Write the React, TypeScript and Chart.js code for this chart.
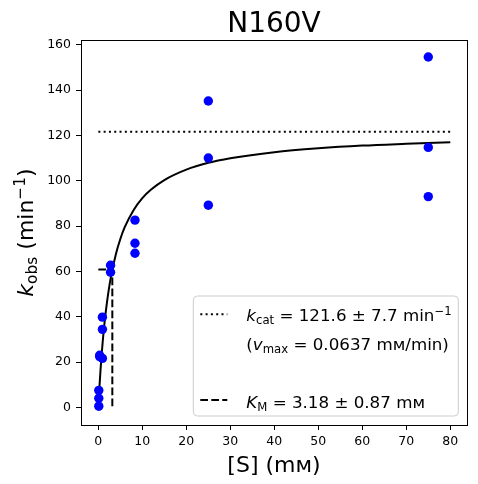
import React, { useEffect, useRef } from 'react';
import { Chart, registerables, Plugin } from 'chart.js';

Chart.register(...registerables);

// measured substrate concentrations (mM) and observed rates (1/min)
const substrateConc = [0.103, 0.103, 0.103, 0.309, 0.309, 0.926, 0.926, 0.926, 2.78, 2.78, 8.33, 8.33, 8.33, 25, 25, 25, 75, 75, 75];
const kObs = [7.5, 4.0, 0.5, 23.0, 22.4, 39.8, 34.4, 21.6, 62.7, 59.6, 82.6, 72.4, 68.0, 135.2, 110.0, 89.2, 154.6, 114.7, 93.0];

// fitted curve
const curveS = [0, 0.25, 0.5, 0.75, 1, 1.5, 2, 2.5, 3, 4, 5, 6, 8, 10, 12, 15, 20, 25, 30, 40, 50, 60, 70, 80];
const curveK = [0, 8.9, 16.5, 23.2, 29.1, 39.0, 46.9, 53.5, 59.0, 67.7, 74.3, 79.5, 87.0, 92.3, 96.1, 100.3, 104.9, 107.9, 109.9, 112.6, 114.3, 115.5, 116.3, 117.0];

// fit parameters shown in the legend
const kcat = 121.6;
const kcatErr = 7.7;
const vmax = '0.0637';
const KM = 3.18;
const KMErr = 0.87;
const kcatLineS = [0, 80];

const xTicks = [0, 10, 20, 30, 40, 50, 60, 70, 80];
const yTicks = [0, 20, 40, 60, 80, 100, 120, 140, 160];

const FONT = '"DejaVu Sans"';

type Piece = { t: string; it?: boolean; sub?: boolean; sup?: boolean };

function pieceFont(p: Piece, size: number) {
    const s = p.sub || p.sup ? size * 0.7 : size;
    return `${p.it ? 'italic ' : ''}${s}px ${FONT}`;
}

function richWidth(ctx: CanvasRenderingContext2D, pieces: Piece[], size: number) {
    let w = 0;
    for (const p of pieces) {
        ctx.font = pieceFont(p, size);
        w += ctx.measureText(p.t).width;
    }
    return w;
}

function drawRich(ctx: CanvasRenderingContext2D, pieces: Piece[], x: number, y: number, size: number) {
    ctx.textAlign = 'left';
    ctx.textBaseline = 'alphabetic';
    let cx = x;
    for (const p of pieces) {
        ctx.font = pieceFont(p, size);
        const dy = p.sub ? size * 0.2 : p.sup ? -size * 0.36 : 0;
        ctx.fillText(p.t, cx, y + dy);
        cx += ctx.measureText(p.t).width;
    }
}

const yLabel: Piece[] = [{ t: 'k', it: true }, { t: 'obs', sub: true }, { t: ' (min' }, { t: '−1', sup: true }, { t: ')' }];
const legendRows: Piece[][] = [
    [{ t: 'k', it: true }, { t: 'cat', sub: true }, { t: ` = ${kcat} ± ${kcatErr} min` }, { t: '−1', sup: true }],
    [{ t: '(' }, { t: 'v', it: true }, { t: 'max', sub: true }, { t: ` = ${vmax} mᴍ/min)` }],
    [{ t: 'K', it: true }, { t: 'M', sub: true }, { t: ` = ${KM} ± ${KMErr} mᴍ` }],
];

const decor: Plugin = {
    id: 'decor',
    afterDraw(chart) {
        const { ctx, chartArea } = chart;
        const { left, right, top, bottom } = chartArea;
        ctx.save();
        // frame
        ctx.strokeStyle = '#000';
        ctx.lineWidth = 1;
        ctx.strokeRect(Math.round(left) + 0.5, Math.round(top) + 0.5, Math.round(right - left), Math.round(bottom - top));

        ctx.fillStyle = '#000';
        // title
        ctx.font = `28px ${FONT}`;
        ctx.textAlign = 'center';
        ctx.textBaseline = 'alphabetic';
        ctx.fillText('N160V', (left + right) / 2, 32.3);

        // x label
        ctx.font = `22px ${FONT}`;
        ctx.fillText('[S] (mᴍ)', (left + right) / 2, 472);

        // y label
        ctx.save();
        ctx.translate(33, (top + bottom) / 2);
        ctx.rotate(-Math.PI / 2);
        const yw = richWidth(ctx, yLabel, 22);
        drawRich(ctx, yLabel, -yw / 2, 0, 22);
        ctx.restore();

        // legend
        const bw = 265, bh = 120;
        const bx = right - 8.7 - bw;
        const by = bottom - 9 - bh;
        ctx.beginPath();
        ctx.roundRect(bx, by, bw, bh, 4);
        ctx.fillStyle = 'rgba(255,255,255,0.8)';
        ctx.fill();
        ctx.strokeStyle = '#cccccc';
        ctx.lineWidth = 1;
        ctx.stroke();

        ctx.strokeStyle = '#000';
        ctx.lineWidth = 2;
        ctx.setLineDash([2, 3.3]);
        ctx.beginPath();
        ctx.moveTo(bx + 7, by + 18.3);
        ctx.lineTo(bx + 34, by + 18.3);
        ctx.stroke();
        ctx.setLineDash([7.7, 3.3]);
        ctx.beginPath();
        ctx.moveTo(bx + 7, by + 104);
        ctx.lineTo(bx + 34, by + 104);
        ctx.stroke();
        ctx.setLineDash([]);

        ctx.fillStyle = '#000';
        const fs = 16.7;
        drawRich(ctx, legendRows[0], bx + 53, by + 25, fs);
        drawRich(ctx, legendRows[1], bx + 53, by + 54, fs);
        drawRich(ctx, legendRows[2], bx + 53, by + 112, fs);
        ctx.restore();
    }
};

const axisCommon = {
    type: 'linear' as const,
    grid: { display: true, drawOnChartArea: false, drawTicks: true, tickLength: 5, color: '#000', lineWidth: 1 },
    border: { display: false },
};

const App: React.FC = () => {
    const canvasRef = useRef<HTMLCanvasElement | null>(null);

    useEffect(() => {
        if (!canvasRef.current) return;

        const chart = new Chart(canvasRef.current, {
            type: 'scatter',
            data: {
                datasets: [
                    {
                        data: substrateConc.map((s, i) => ({ x: s, y: kObs[i] })),
                        backgroundColor: '#0000ff',
                        borderWidth: 0,
                        pointRadius: 4.7,
                        order: 0,
                    },
                    {
                        data: curveS.map((s, i) => ({ x: s, y: curveK[i] })),
                        showLine: true,
                        borderColor: '#000',
                        borderWidth: 2,
                        pointRadius: 0,
                        cubicInterpolationMode: 'monotone',
                        order: 1,
                    },
                    {
                        data: kcatLineS.map((s) => ({ x: s, y: kcat })),
                        showLine: true,
                        borderColor: '#000',
                        borderWidth: 2,
                        borderDash: [2, 3.3],
                        pointRadius: 0,
                        order: 2,
                    },
                    {
                        data: [
                            { x: 0, y: kcat / 2 },
                            { x: KM, y: kcat / 2 },
                            { x: KM, y: 0 },
                        ],
                        showLine: true,
                        borderColor: '#000',
                        borderWidth: 2,
                        borderDash: [7.7, 3.3],
                        pointRadius: 0,
                        order: 3,
                    },
                ],
            },
            options: {
                responsive: false,
                animation: false,
                layout: { padding: { left: 0, right: 11, top: 40, bottom: 0 } },
                plugins: {
                    legend: { display: false },
                    tooltip: { enabled: false },
                    title: { display: false },
                },
                scales: {
                    x: {
                        ...axisCommon,
                        min: -3.94,
                        max: 83.8,
                        afterBuildTicks: (s: any) => { s.ticks = xTicks.map((v) => ({ value: v })); },
                        afterFit: (s: any) => { s.height = 59; },
                        ticks: { color: '#000', font: { family: FONT, size: 12.5 }, padding: 4, maxRotation: 0, autoSkip: false },
                    },
                    y: {
                        ...axisCommon,
                        min: -7.8,
                        max: 162.1,
                        afterBuildTicks: (s: any) => { s.ticks = yTicks.map((v) => ({ value: v })); },
                        afterFit: (s: any) => { s.width = 81; },
                        ticks: { color: '#000', font: { family: FONT, size: 12.5 }, padding: 5, autoSkip: false },
                    },
                },
            },
            plugins: [decor],
        });

        return () => {
            chart.destroy();
        };
    }, []);

    return (
        <div style={{ position: 'absolute', left: 0, top: 0, width: 478, height: 484, background: '#fff' }}>
            <canvas ref={canvasRef} width="478" height="484"></canvas>
        </div>
    );
};

export default App;
